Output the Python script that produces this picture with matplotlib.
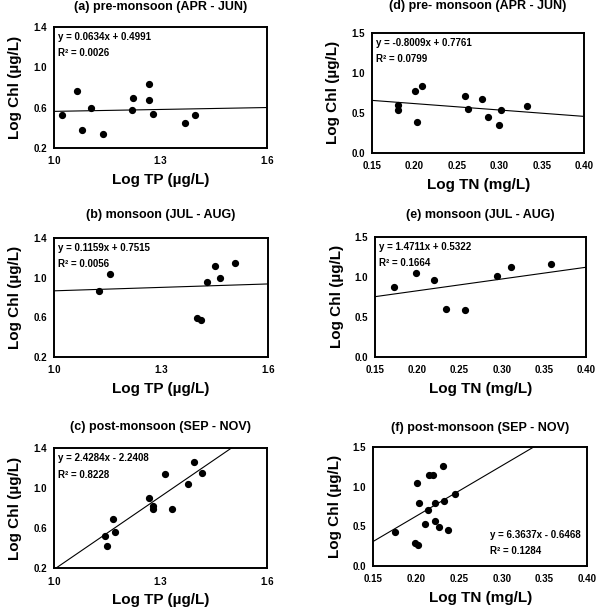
import numpy as np
import matplotlib
matplotlib.use("Agg")
import matplotlib.pyplot as plt

plt.rcParams['font.family'] = ['Liberation Sans', 'DejaVu Sans']

# data: log TP / log TN vs log Chl
a_x = [1.022, 1.066, 1.080, 1.105, 1.137, 1.219, 1.224, 1.267, 1.267, 1.280, 1.369, 1.396]
a_y = [0.524, 0.762, 0.382, 0.597, 0.342, 0.577, 0.699, 0.831, 0.673, 0.534, 0.445, 0.524]

b_x = [1.126, 1.157, 1.400, 1.412, 1.428, 1.451, 1.465, 1.506]
b_y = [0.868, 1.039, 0.591, 0.574, 0.955, 1.116, 0.999, 1.153]

c_x = [1.144, 1.148, 1.166, 1.171, 1.267, 1.278, 1.279, 1.313, 1.332, 1.378, 1.395, 1.418]
c_y = [0.520, 0.427, 0.697, 0.560, 0.907, 0.820, 0.790, 1.140, 0.790, 1.040, 1.263, 1.150]

d_x = [0.180, 0.180, 0.201, 0.209, 0.203, 0.260, 0.263, 0.279, 0.287, 0.300, 0.302, 0.332]
d_y = [0.604, 0.533, 0.775, 0.842, 0.392, 0.708, 0.546, 0.679, 0.454, 0.350, 0.542, 0.592]

e_x = [0.172, 0.198, 0.220, 0.234, 0.256, 0.294, 0.311, 0.358]
e_y = [0.876, 1.052, 0.964, 0.595, 0.582, 1.010, 1.127, 1.165]

f_x = [0.175, 0.201, 0.199, 0.202, 0.204, 0.210, 0.214, 0.215, 0.220, 0.222,
       0.222, 0.227, 0.232, 0.233, 0.237, 0.245]
f_y = [0.427, 1.043, 0.285, 0.256, 0.788, 0.524, 0.704, 1.148, 1.148, 0.788,
       0.561, 0.494, 1.265, 0.821, 0.452, 0.909]

titles = ['(a) pre-monsoon (APR - JUN)', '(b) monsoon (JUL - AUG)',
          '(c) post-monsoon (SEP - NOV)', '(d) pre- monsoon (APR - JUN)',
          '(e) monsoon (JUL - AUG)', '(f) post-monsoon (SEP - NOV)']
slopes = [0.0634, 0.1159, 2.4284, -0.8009, 1.4711, 6.3637]
intercepts = [0.4991, 0.7515, -2.2408, 0.7761, 0.5322, -0.6468]
r2 = ['0.0026', '0.0056', '0.8228', '0.0799', '0.1664', '0.1284']

tp_ticks = [1.0, 1.3, 1.6]
tp_chl_ticks = [0.2, 0.6, 1.0, 1.4]
tn_ticks = [0.15, 0.20, 0.25, 0.30, 0.35, 0.40]
tn_chl_ticks = [0.0, 0.5, 1.0, 1.5]

xs = [a_x, b_x, c_x, d_x, e_x, f_x]
ys = [a_y, b_y, c_y, d_y, e_y, f_y]

# axes boxes in figure fractions [left, bottom, width, height]
boxes = [[0.0896, 0.757, 0.353, 0.199],
         [0.0896, 0.414, 0.355, 0.195],
         [0.0896, 0.067, 0.353, 0.197],
         [0.617, 0.749, 0.352, 0.197],
         [0.622, 0.414, 0.350, 0.197],
         [0.619, 0.071, 0.355, 0.195]]
# title centre heights (pixels from the top of the 609 px figure)
title_y = [7, 215, 427, 6, 215, 428]

fig = plt.figure(figsize=(6.03, 6.09), dpi=100)

for i in range(6):
    ax = fig.add_axes(boxes[i])
    if i < 3:
        xt, yt = tp_ticks, tp_chl_ticks
        xlabel = 'Log TP (µg/L)'
        xfmt = '%.1f'
    else:
        xt, yt = tn_ticks, tn_chl_ticks
        xlabel = 'Log TN (mg/L)'
        xfmt = '%.2f'
    ax.set_xlim(xt[0], xt[-1])
    ax.set_ylim(yt[0], yt[-1])
    ax.set_xticks(xt)
    ax.set_yticks(yt)
    ax.set_xticklabels([xfmt % v for v in xt], fontsize=7, fontweight='bold')
    ax.set_yticklabels(['%.1f' % v for v in yt], fontsize=7, fontweight='bold')
    ax.tick_params(length=0, pad=5)
    ax.tick_params(axis='x', pad=6)
    for s in ax.spines.values():
        s.set_linewidth(1.4)

    ax.plot(xs[i], ys[i], 'o', color='black', markersize=4.2, zorder=3)

    # regression line over the whole axis range
    lx = np.array([xt[0], xt[-1]])
    ax.plot(lx, slopes[i] * lx + intercepts[i], color='black', linewidth=0.8)

    sign = '+' if intercepts[i] >= 0 else '-'
    eq = 'y = %.4fx %s %.4f' % (slopes[i], sign, abs(intercepts[i]))
    if i == 5:
        ax.text(0.547, 0.26, eq, transform=ax.transAxes, fontsize=7,
                fontweight='bold', va='center')
        ax.text(0.547, 0.126, 'R² = ' + r2[i], transform=ax.transAxes,
                fontsize=7, fontweight='bold', va='center')
    else:
        ax.text(0.02, 0.915, eq, transform=ax.transAxes, fontsize=7,
                fontweight='bold', va='center')
        ax.text(0.02, 0.78, 'R² = ' + r2[i], transform=ax.transAxes,
                fontsize=7, fontweight='bold', va='center')

    cx = boxes[i][0] + boxes[i][2] / 2
    fig.text(cx, 1 - title_y[i] / 609, titles[i], fontsize=9,
             fontweight='bold', ha='center', va='center')
    ax.set_xlabel(xlabel, fontsize=11, fontweight='bold', labelpad=5)
    ax.set_ylabel('Log Chl (µg/L)', fontsize=11, fontweight='bold', labelpad=8)

plt.savefig('out.png', dpi=100)
